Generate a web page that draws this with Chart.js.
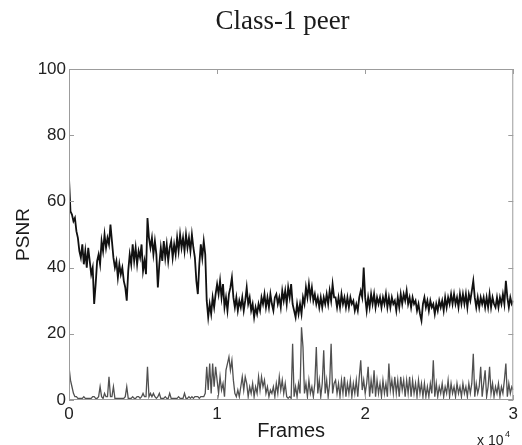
<!DOCTYPE html>
<html>
<head>
<meta charset="utf-8">
<script src="https://cdn.jsdelivr.net/npm/chart.js@4/dist/chart.umd.min.js"></script>
<style>
  html, body { margin: 0; padding: 0; background: #fff; }
  #wrap { width: 522px; height: 445px; position: relative; }
</style>
</head>
<body>
<div id="wrap"><canvas id="c"></canvas></div>
<script>
// ---- data (one sample every 100 frames) ----
const chartTitle = 'Class-1 peer';
const xAxisTitle = 'Frames';
const yAxisTitle = 'PSNR';
const frameStep = 100;
const xTicks = [0, 10000, 20000, 30000];
const xTickLabels = ['0', '1', '2', '3'];
const yTicks = [0, 20, 40, 60, 80, 100];

// black trace: PSNR of the peer
const psnrPeer = [
  67,57,56,54,55,51,49,45,43,47,41,45,40,46,42,38,40,29,35,42,
  44,41,48,45,50,46,49,47,53,48,43,40,42,37,41,38,40,36,34,30,
  39,44,41,47,42,46,41,45,43,47,39,42,38,55,49,46,49,44,48,44,
  34,41,46,42,48,43,47,42,46,48,43,47,44,49,45,50,46,49,45,50,
  46,49,45,50,46,43,36,32,41,47,43,48,44,30,25,29,26,31,28,32,
  35,32,36,31,35,28,31,27,32,34,37,31,28,31,27,30,28,31,27,30,
  34,29,31,27,29,25,28,26,29,27,31,29,32,28,31,28,32,29,27,31,
  32,29,31,28,33,30,33,29,34,31,35,29,27,25,29,26,29,26,31,29,
  34,31,35,31,34,30,32,29,31,28,31,28,31,29,32,29,33,30,35,31,
  31,28,31,28,32,29,31,28,31,28,31,29,30,27,29,27,31,33,31,40,
  31,27,31,28,32,29,32,28,31,29,31,28,31,29,32,28,31,28,31,29,
  30,27,31,28,32,29,32,30,33,29,31,28,31,29,30,27,29,26,24,29,
  31,28,30,27,30,28,29,26,29,27,30,28,30,27,31,28,31,29,32,29,
  32,29,31,28,32,29,32,29,32,28,32,30,33,36,31,28,31,28,31,29,
  31,28,31,28,32,28,31,29,28,31,28,31,29,32,29,36,31,28,31,29,
  30
];

// gray trace near the bottom
const psnrGap = [
  10,6,4,2,1,1,0.5,0.5,0.5,0.5,1,0.5,0.5,0.5,0.5,0.5,1,1,0.5,0.5,
  1,4,1,0.5,2,1,1,7,1,1,4,0.5,0.5,0.5,0.5,0.5,0.5,0.5,1,4,
  0.5,0.5,0.5,1,0.5,0.5,1,1,0.5,1,2,1,1,10,1,2,1,2,1,0.5,
  1,2,0.5,0.5,0.5,1,0.5,0.5,2,0.5,0.5,0.5,0.5,0.5,1,0.5,0.5,0.5,2,0.5,
  0.5,1,0.5,1,0.5,1,1,1,0.5,1,1,1,2,10,3,11,2,11,4,10,
  6,2,7,3,5,1,9,11,13,9,12,6,2,1,3,1,4,7,3,7,
  5,1,4,2,5,1,4,2,7,3,7,4,6,2,4,1,3,2,4,1,
  5,2,7,3,6,2,5,1,0.5,1,0.5,17,1,4,1,5,2,22,16,2,
  5,1,6,2,4,1,5,16,2,6,1,5,15,2,6,1,5,17,2,5,
  6,2,5,1,6,2,7,1,5,2,6,1,5,2,6,1,7,12,3,6,
  2,5,10,1,6,2,9,1,6,2,5,1,6,2,5,1,11,3,6,2,
  7,2,6,1,7,3,6,1,6,2,7,1,6,2,5,1,6,2,5,1,
  5,1,4,1,5,2,12,1,5,1,4,2,5,1,4,2,6,1,5,2,
  4,1,5,2,4,1,5,2,4,1,5,2,5,14,1,5,2,4,10,1,
  5,9,1,4,10,2,5,1,4,2,5,1,4,2,6,11,1,5,2,4,
  3
];

const toPoints = arr => arr.map((v, i) => ({ x: i * frameStep, y: v }));
const sansFont = '"Liberation Sans", Arial, Helvetica, sans-serif';

const decor = {
  id: 'decor',
  afterDatasetsDraw(chart) {
    const { ctx, chartArea: a, scales: { x, y } } = chart;
    ctx.save();
    ctx.strokeStyle = '#9c9c9c';
    ctx.lineWidth = 1;
    ctx.strokeRect(a.left + 0.5, a.top + 0.5, a.right - a.left - 1, a.bottom - a.top - 1);
    const tl = 5;
    ctx.beginPath();
    xTicks.forEach(v => {
      const px = Math.round(x.getPixelForValue(v)) + 0.5;
      ctx.moveTo(px, a.bottom); ctx.lineTo(px, a.bottom - tl);
      ctx.moveTo(px, a.top); ctx.lineTo(px, a.top + tl);
    });
    yTicks.forEach(v => {
      const py = Math.round(y.getPixelForValue(v)) + 0.5;
      ctx.moveTo(a.left, py); ctx.lineTo(a.left + tl, py);
      ctx.moveTo(a.right, py); ctx.lineTo(a.right - tl, py);
    });
    ctx.stroke();
    ctx.restore();
  },
  afterDraw(chart) {
    const { ctx } = chart;
    ctx.save();
    ctx.fillStyle = '#1a1a1a';
    ctx.textAlign = 'center';
    ctx.textBaseline = 'alphabetic';
    ctx.font = '27px "Liberation Serif", "Times New Roman", serif';
    ctx.fillText(chartTitle, 282.5, 29);
    ctx.fillStyle = '#222';
    ctx.textAlign = 'left';
    ctx.font = '14px ' + sansFont;
    ctx.fillText('x 10', 477, 445);
    ctx.font = '9px ' + sansFont;
    ctx.fillText('4', 505, 437);
    ctx.restore();
  }
};

new Chart(document.getElementById('c'), {
  type: 'line',
  data: {
    datasets: [
      {
        data: toPoints(psnrPeer),
        borderColor: '#111',
        borderWidth: 1.8,
        pointRadius: 0,
        tension: 0
      },
      {
        data: toPoints(psnrGap),
        borderColor: '#505050',
        borderWidth: 1.3,
        pointRadius: 0,
        tension: 0
      }
    ]
  },
  options: {
    responsive: true,
    maintainAspectRatio: false,
    animation: false,
    layout: { padding: { top: 69, right: 5, left: 0, bottom: 0 } },
    plugins: { legend: { display: false }, tooltip: { enabled: false }, title: { display: false } },
    scales: {
      x: {
        type: 'linear',
        min: 0, max: 30000,
        afterBuildTicks: s => { s.ticks = xTicks.map(v => ({ value: v })); },
        afterFit: s => { s.height = 45; },
        grid: { display: false, drawTicks: false },
        border: { display: false },
        ticks: {
          padding: 4,
          color: '#222',
          font: { family: sansFont, size: 17 },
          maxRotation: 0,
          callback: (v) => xTickLabels[xTicks.indexOf(v)]
        },
        title: {
          display: true, text: xAxisTitle, color: '#1a1a1a',
          font: { family: sansFont, size: 20 },
          padding: { top: 0, bottom: 2 }
        }
      },
      y: {
        min: 0, max: 100,
        afterBuildTicks: s => { s.ticks = yTicks.map(v => ({ value: v })); },
        afterFit: s => { s.width = 69; },
        grid: { display: false, drawTicks: false },
        border: { display: false },
        ticks: {
          padding: 3,
          color: '#222',
          font: { family: sansFont, size: 17 }
        },
        title: {
          display: true, text: yAxisTitle, color: '#1a1a1a',
          font: { family: sansFont, size: 19 },
          padding: { top: 12, bottom: 0 }
        }
      }
    }
  },
  plugins: [decor]
});
</script>
</body>
</html>
